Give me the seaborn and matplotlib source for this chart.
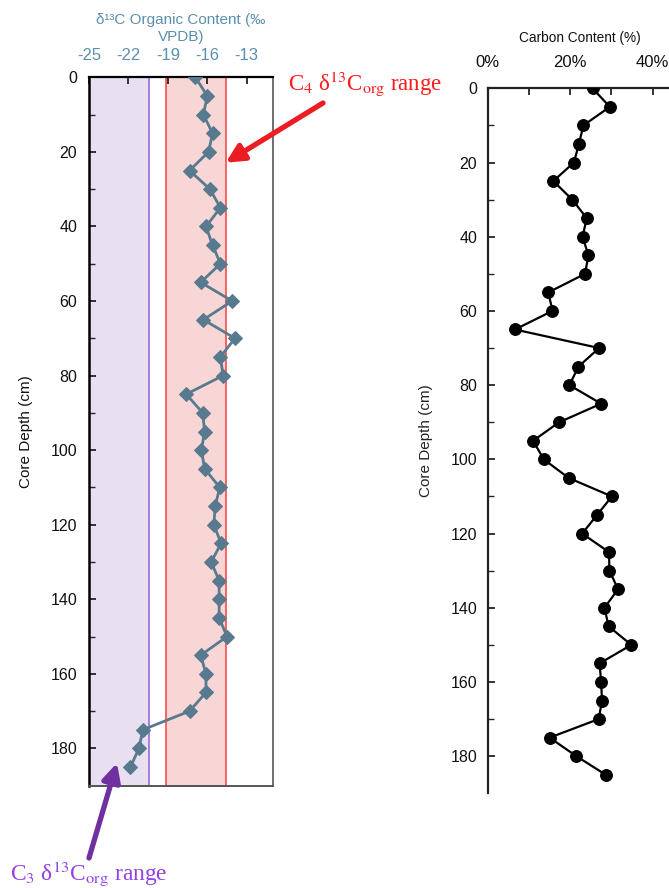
import numpy as np
import pandas as pd
import matplotlib
matplotlib.use("Agg")
import matplotlib.pyplot as plt
import seaborn as sns

# ---------------- data ----------------
depth = [0, 5, 10, 15, 20, 25, 30, 35, 40, 45, 50, 55, 60, 65, 70, 75, 80, 85, 90,
         95, 100, 105, 110, 115, 120, 125, 130, 135, 140, 145, 150, 155, 160, 165,
         170, 175, 180, 185]
d13c = [-16.9, -16.0, -16.3, -15.6, -15.9, -17.35, -15.8, -15.0, -16.1, -15.6, -15.0,
        -16.5, -14.1, -16.3, -13.9, -15.0, -14.8, -17.6, -16.35,
        -16.2, -16.45, -16.2, -15.05, -15.4, -15.5, -14.95, -15.7, -15.1, -15.1,
        -15.1, -14.5, -16.5, -16.1, -16.1, -17.35, -20.9, -21.2, -21.85]
carbon = [25.4, 29.6, 23.2, 22.1, 20.9, 15.9, 20.5, 24.0, 23.0, 24.4, 23.6, 14.7,
          15.7, 6.6, 27.0, 22.0, 19.8, 27.5, 17.3, 11.0, 13.6, 19.6, 30.1, 26.5,
          22.9, 29.4, 29.5, 31.6, 28.3, 29.3, 34.8, 27.1, 27.5, 27.7, 26.9, 15.0,
          21.5, 28.6]
d13c_ticks = [-25, -22, -19, -16, -13]
carbon_ticks = [0, 20, 40]
carbon_ticklabels = ["0%", "20%", "40%"]
depth_ticks = [0, 20, 40, 60, 80, 100, 120, 140, 160, 180]
c3_range = (-25, -20.45)
c4_range = (-19.15, -14.56)

df = pd.DataFrame({"depth": depth, "d13c": d13c, "carbon": carbon})

# ---------------- style ----------------
sns.set_theme(style="white")
plt.rcParams["font.family"] = ["Liberation Sans", "DejaVu Sans"]
plt.rcParams["mathtext.fontset"] = "stix"

W, H = 669, 888
fig = plt.figure(figsize=(W / 100, H / 100), dpi=100)


def ax_rect(x0, y0, x1, y1):
    return [x0 / W, 1 - y1 / H, (x1 - x0) / W, (y1 - y0) / H]


# ---------------- left panel ----------------
axL = fig.add_axes(ax_rect(89, 77.3, 273, 785.7))
axL.axvspan(*c3_range, facecolor="#e8dff0", edgecolor="#9a6ccf", lw=1.2, zorder=0)
axL.axvspan(*c4_range, facecolor="#f8d6d6", edgecolor="#ff4a4a", lw=1.2, zorder=0)
sns.lineplot(data=df, x="d13c", y="depth", sort=False, orient="y", estimator=None,
             color="#587a8f", lw=2.0, marker="D", markersize=7.5,
             markeredgecolor="#587a8f", ax=axL, zorder=3)
axL.set_xlim(-25, -11)
axL.set_ylim(190, 0)
axL.xaxis.tick_top()
axL.xaxis.set_label_position("top")
axL.set_xticks(d13c_ticks)
axL.set_xticklabels([str(t) for t in d13c_ticks])
axL.set_yticks(depth_ticks)
axL.set_yticks(np.arange(10, 190, 20), minor=True)
axL.tick_params(axis="x", which="both", direction="in", length=5, width=1.2,
                colors="#111111", labelcolor="#5b8fae", labelsize=12, pad=10,
                top=True, bottom=False)
axL.tick_params(axis="y", which="major", direction="in", length=5, width=1.2,
                colors="#111111", labelsize=11.5, pad=8.5, left=True, right=False)
axL.tick_params(axis="y", which="minor", direction="in", length=4, width=1.0,
                left=True, right=False)
axL.set_xlabel("δ¹³C Organic Content (‰\nVPDB)", color="#5b8fae", fontsize=11,
               labelpad=5, linespacing=1.32)
axL.set_ylabel("Core Depth (cm)", fontsize=11, color="#111111")
axL.yaxis.set_label_coords(-0.304, 0.5)
for side, col, lw in [("left", "#000000", 1.8), ("top", "#000000", 1.6),
                      ("right", "#555555", 1.2), ("bottom", "#555555", 1.4)]:
    axL.spines[side].set_visible(True)
    axL.spines[side].set_color(col)
    axL.spines[side].set_linewidth(lw)

# ---------------- right panel ----------------
axR = fig.add_axes(ax_rect(487.7, 88.3, 694, 793.3))
sns.lineplot(data=df, x="carbon", y="depth", sort=False, orient="y", estimator=None,
             color="black", lw=1.6, marker="o", markersize=8.5,
             markeredgecolor="black", ax=axR, zorder=3)
axR.set_xlim(0, 50)
axR.set_ylim(190, 0)
axR.xaxis.tick_top()
axR.xaxis.set_label_position("top")
axR.set_xticks(carbon_ticks)
axR.set_xticklabels(carbon_ticklabels)
axR.set_xticks([10, 30], minor=True)
axR.set_yticks(depth_ticks)
axR.set_yticks(np.arange(10, 190, 20), minor=True)
axR.tick_params(axis="x", which="both", direction="in", length=5, width=1.2,
                colors="#111111", labelsize=12, pad=13, top=True, bottom=False)
axR.tick_params(axis="y", which="major", direction="in", length=5, width=1.2,
                colors="#111111", labelsize=11.5, pad=7.5, left=True, right=False)
axR.tick_params(axis="y", which="minor", direction="in", length=4, width=1.0,
                left=True, right=False)
axR.set_xlabel("Carbon Content (%)", fontsize=9.8, color="#111111")
axR.xaxis.set_label_coords(0.447, 1.066)
axR.set_ylabel("Core Depth (cm)", fontsize=11, color="#222222")
axR.yaxis.set_label_coords(-0.265, 0.5)
for side in ["left", "top"]:
    axR.spines[side].set_visible(True)
    axR.spines[side].set_color("#222222")
    axR.spines[side].set_linewidth(1.6)
axR.spines["right"].set_visible(False)
axR.spines["bottom"].set_visible(False)
for a in (axL, axR):
    a.grid(False)
    a.set_facecolor("none")

# ---------------- annotations ----------------
fig.text(288 / W, 1 - 84 / H, r"C$_4$ δ$^{13}$C$_{\mathrm{org}}$ range",
         color="#ff1a1a", fontsize=16.5, family=["Liberation Serif", "DejaVu Serif"],
         ha="left", va="center")
fig.text(10 / W, 1 - 874 / H, r"C$_3$ δ$^{13}$C$_{\mathrm{org}}$ range",
         color="#9440e6", fontsize=16.8, family=["Liberation Serif", "DejaVu Serif"],
         ha="left", va="center")
axL.annotate("", xy=(225.7, H - 162.7), xycoords="figure pixels",
             xytext=(323, H - 103), textcoords="figure pixels",
             arrowprops=dict(arrowstyle="-|>,head_length=0.9,head_width=0.45",
                             color="#ec1c24", lw=3.8, shrinkA=0, shrinkB=0),
             annotation_clip=False)
axL.annotate("", xy=(117, H - 763), xycoords="figure pixels",
             xytext=(89, H - 858), textcoords="figure pixels",
             arrowprops=dict(arrowstyle="-|>,head_length=0.9,head_width=0.45",
                             color="#7030a0", lw=3.8, shrinkA=0, shrinkB=0),
             annotation_clip=False)

fig.savefig("out.png", dpi=100, facecolor="white")
